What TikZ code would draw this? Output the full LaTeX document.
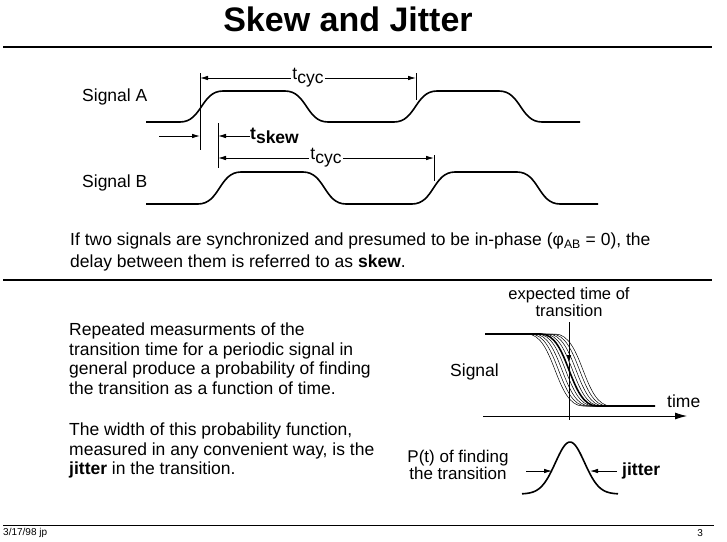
\documentclass[tikz,border=0pt]{standalone}
\usepackage{fontspec}
\setmainfont{Liberation Sans}
\usetikzlibrary{arrows.meta}
\newcommand{\tlab}[1]{t\raisebox{-4pt}{#1}}

\begin{document}
\begin{tikzpicture}
  [x=1pt,y=-1pt,every node/.style={inner sep=0pt,font=\fontsize{17.5}{19.5}\selectfont}]
  \tikzstyle{wave} = [line width=1.6pt,line join=round]
  \tikzstyle{tick} = [line width=0.8pt]
  \tikzstyle{dim} = [line width=0.8pt,-{Latex[length=8pt,width=4.5pt]}]
  \tikzstyle{dims} = [line width=0.8pt,{Latex[length=8pt,width=4.5pt]}-{Latex[length=8pt,width=4.5pt]}]
  \tikzstyle{rule} = [line width=1.5pt]
  \tikzstyle{lbl} = [fill=white,inner xsep=1pt]
  \useasboundingbox (0,0) rectangle (727,541);

  \node (title) at (348,19) {\fontsize{34}{36}\selectfont\bfseries Skew and Jitter};
  \draw[rule] (3,47) -- (712,47);

  % signals A and B
  \node[anchor=west] (siga) at (82,97) {Signal A};
  \node[anchor=west] (sigb) at (82,183) {Signal B};
  \draw[wave] (146,122) \foreach \p in {0,214} { -- (180+\p,122) .. controls (202+\p,122) and (201+\p,91) .. (223+\p,91)
    -- (285+\p,91) .. controls (307+\p,91) and (306+\p,122) .. (328+\p,122) } -- (580,122);
  \draw[wave] (146,204) \foreach \p in {18,232} { -- (180+\p,204) .. controls (202+\p,204) and (201+\p,172) .. (223+\p,172)
    -- (285+\p,172) .. controls (307+\p,172) and (306+\p,204) .. (328+\p,204) } -- (598,204);

  \coordinate (a1) at (200,73);  \coordinate (a1b) at (200,150);
  \coordinate (a2) at (416,73);  \coordinate (a2b) at (416,100);
  \coordinate (b1) at (218,123); \coordinate (b1b) at (218,168);
  \coordinate (b2) at (434,155); \coordinate (b2b) at (434,181);
  \foreach \up/\dn in {a1/a1b,a2/a2b,b1/b1b,b2/b2b}
    \draw[tick] (\up) -- (\dn);

  \coordinate (ca1) at (200,78); \coordinate (ca2) at (416,78);
  \draw[dims] (ca1) -- node[lbl] (tcyca) {\tlab{cyc}} (ca2);
  \coordinate (cb1) at (218,158); \coordinate (cb2) at (434,158);
  \draw[dims] (cb1) -- node[lbl] (tcycb) {\tlab{cyc}} (cb2);

  \coordinate (sk1) at (159,136); \coordinate (sk2) at (200,136);
  \coordinate (sk3) at (218,136);
  \draw[dim] (sk1) -- (sk2);
  \node[anchor=west] (tskew) at (250,136) {\bfseries\tlab{skew}};
  \draw[dim] (tskew.west) -- (sk3);

  \node[anchor=north west,align=left,font=\fontsize{17.5}{22}\selectfont] (skewtxt) at (70,233)
    {If two signals are synchronized and presumed to be in-phase (φ\textsubscript{AB} = 0), the\\
     delay between them is referred to as \textbf{skew}.};
  \draw[rule] (3,280) -- (712,280);

  % jitter
  \node[anchor=north west,align=left] (rep) at (69,323)
    {Repeated measurments of the\\transition time for a periodic signal in\\general produce a probability of finding\\the transition as a function of time.};
  \node[anchor=north west,align=left] (wid) at (69,423)
    {The width of this probability function,\\measured in any convenient way, is the\\\textbf{jitter} in the transition.};

  \node[align=center,font=\fontsize{16.5}{17.5}\selectfont] (expct) at (569,302) {expected time of\\transition};
  \coordinate (hit) at (569,363); \coordinate (vend) at (569,420);
  \draw[dim,shorten <=5pt] (expct.south) -- (hit);
  \draw[tick] (hit) -- (vend);

  \node[anchor=west] (sigl) at (450,372) {Signal};
  \coordinate (ax0) at (483,416); \coordinate (ax1) at (687,416);
  \draw[line width=0.8pt,-{Latex[length=12pt,width=7pt]}] (ax0) -- (ax1);
  \node[anchor=west] (timel) at (667,401) {time};

  \draw[wave] (485,334) -- (541,334);
  \foreach \d in {0,3.5,7,10.5,17.5,21,24.5,28}
    \draw[line width=0.5pt] (527,334) -- (527+\d,334) .. controls (555+\d,334) and (555+\d,406) .. (583+\d,406) -- (611,406);
  \draw[wave] (541,334) .. controls (569,334) and (569,406) .. (597,406) -- (655,406);

  \draw[wave] plot[domain=522:618,samples=60] (\x,{494-52*exp(-0.5*((\x-570)/14.5)^2)});
  \node[align=center,font=\fontsize{17}{17}\selectfont] (pt) at (458,465) {P(t) of finding\\the transition};
  \coordinate (jl0) at (526,471); \coordinate (jl1) at (552,471);
  \draw[dim] (jl0) -- (jl1);
  \node[anchor=west] (jit) at (622,471) {\bfseries jitter};
  \coordinate (jr0) at (617,471); \coordinate (jr1) at (590,471);
  \draw[dim] (jr0) -- (jr1);

  \draw[line width=1pt] (3,525) -- (714,525);
  \node[anchor=west,font=\fontsize{10}{11}\selectfont] (date) at (3,533) {3/17/98 jp};
  \node[anchor=east,font=\fontsize{10}{11}\selectfont] (pg) at (703,533) {3};

\end{tikzpicture}
\end{document}
